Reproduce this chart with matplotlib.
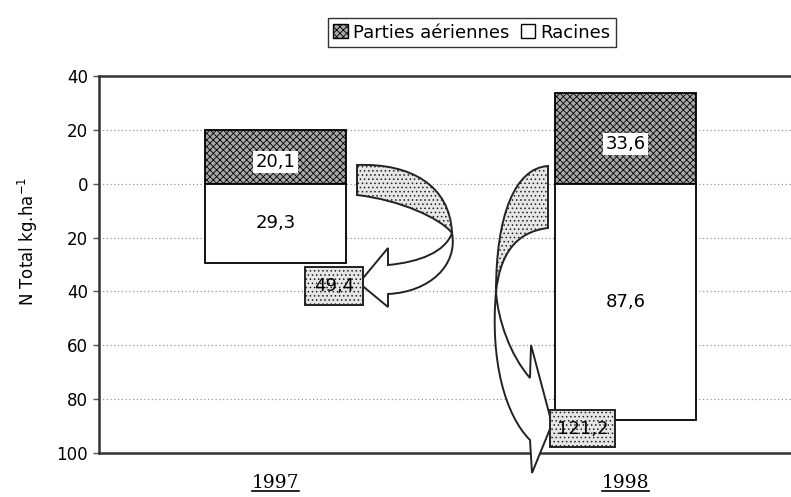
import numpy as np
import matplotlib.pyplot as plt
from matplotlib.patches import Patch, PathPatch, Rectangle
from matplotlib.path import Path
from matplotlib.lines import Line2D

plt.rcParams['hatch.linewidth'] = 0.6

# N total (kg/ha): shoots above zero, roots below zero
years = ['1997', '1998']
aerial = [20.1, 33.6]
roots = [29.3, 87.6]
yticks = [40, 20, 0, -20, -40, -60, -80, -100]
totals = [a + r for a, r in zip(aerial, roots)]

W, H = 791, 497
fig = plt.figure(figsize=(W / 100, H / 100), dpi=100)
ax = fig.add_axes([99 / W, 1 - 453 / H, 1 - 99 / W, 377 / H])

x = np.arange(len(years))
bw = 0.403
ax.bar(x, aerial, width=bw, color='#a8a8a8', edgecolor='black', hatch='xxxxx',
       lw=1.3, zorder=3)
ax.bar(x, [-r for r in roots], width=bw, color='white', edgecolor='black',
       lw=1.3, zorder=3)

def fr(v):
    return ('%.1f' % v).replace('.', ',')

for i in range(len(years)):
    ax.text(x[i], aerial[i] / 2 - 2, fr(aerial[i]), ha='center', va='center',
            fontsize=13, zorder=4,
            bbox=dict(facecolor='white', edgecolor='none', pad=1.5))
    ax.text(x[i], -roots[i] / 2, fr(roots[i]), ha='center', va='center',
            fontsize=13, zorder=4)

# dotted grid between the outer ticks
ax.hlines(yticks[1:-1], -0.6, 1.6, colors='#999999', linestyles=(0, (1, 2)),
          lw=0.9, zorder=1)

ax.set_xlim(-0.504, 1.473)
ax.set_ylim(-100, 40)
ax.set_yticks(yticks)
ax.set_yticklabels([str(abs(t)) for t in yticks], fontsize=12)
ax.set_xticks(x)
ax.set_xticklabels(years, fontsize=13.5, family='DejaVu Serif')
ax.tick_params(axis='x', length=0, pad=15)
ax.tick_params(axis='y', length=4, width=1, color='#555555', pad=4)
for s in ['left', 'top', 'bottom']:
    ax.spines[s].set_linewidth(1.8)
    ax.spines[s].set_color('#333333')
ax.spines['right'].set_visible(False)

ax.text(-0.103, 0.562, 'N Total kg.ha$^{-1}$', transform=ax.transAxes,
        rotation=90, ha='center', va='center', fontsize=12)

# legend
handles = [Patch(facecolor='#a8a8a8', edgecolor='black', hatch='xxxxx',
                 label='Parties aériennes'),
           Patch(facecolor='white', edgecolor='black', label='Racines')]
fig.legend(handles=handles, loc='center', bbox_to_anchor=(472 / W, 1 - 32.5 / H),
           ncol=2, frameon=True, fancybox=False, edgecolor='#333333',
           framealpha=1, fontsize=13, handlelength=0.8, handleheight=0.8,
           handletextpad=0.3, columnspacing=0.6, borderpad=0.3)

# curved arrows drawn in pixel space on top of the chart
ov = fig.add_axes([0, 0, 1, 1], zorder=5)
ov.set_xlim(0, W)
ov.set_ylim(H, 0)
ov.axis('off')
ov.patch.set_alpha(0)

M, C, L, Z = Path.MOVETO, Path.CURVE4, Path.LINETO, Path.CLOSEPOLY
band = dict(facecolor='#e6e6e6', edgecolor='#222222', hatch='....', lw=1.4)
front = dict(facecolor='white', edgecolor='#222222', lw=1.4)

# 1997: band on the right, head pointing left
ov.add_patch(PathPatch(Path(
    [(357, 165), (410, 163), (450, 185), (452, 233),
     (440, 218), (400, 200), (357, 195), (357, 165)],
    [M, C, C, C, C, C, C, Z]), **band))
ov.add_patch(PathPatch(Path(
    [(452, 233), (458, 265), (430, 292), (388, 294),
     (388, 307), (359, 283), (388, 248), (388, 265),
     (420, 262), (445, 252), (452, 233), (452, 233)],
    [M, C, C, C, L, L, L, L, C, C, C, Z]), **front))

# 1998: band on the left, head pointing down
ov.add_patch(PathPatch(Path(
    [(548, 166), (515, 168), (496, 215), (496, 292),
     (500, 255), (515, 232), (548, 228), (548, 166)],
    [M, C, C, C, C, C, C, Z]), **band))
ov.add_patch(PathPatch(Path(
    [(496, 292), (490, 360), (505, 415), (530, 440),
     (532, 473), (552, 424), (531, 345), (530, 378),
     (510, 355), (498, 320), (496, 292), (496, 292)],
    [M, C, C, C, L, L, L, L, C, C, C, Z]), **front))

# total N boxes
for (bx, by, bwid, bht), tot in zip([(305, 267, 58, 38), (550, 410, 65, 37)], totals):
    ov.add_patch(Rectangle((bx, by), bwid, bht, **band))
    ov.text(bx + bwid / 2, by + bht / 2, fr(tot), ha='center', va='center',
            fontsize=13)

# underline the year labels
fig.canvas.draw()
for lab in ax.get_xticklabels():
    bb = lab.get_window_extent()
    fig.add_artist(Line2D([bb.x0 / W, bb.x1 / W], [(bb.y0 + 1) / H] * 2,
                          transform=fig.transFigure, color='black', lw=1.2))

fig.savefig('out.png', dpi=100)
